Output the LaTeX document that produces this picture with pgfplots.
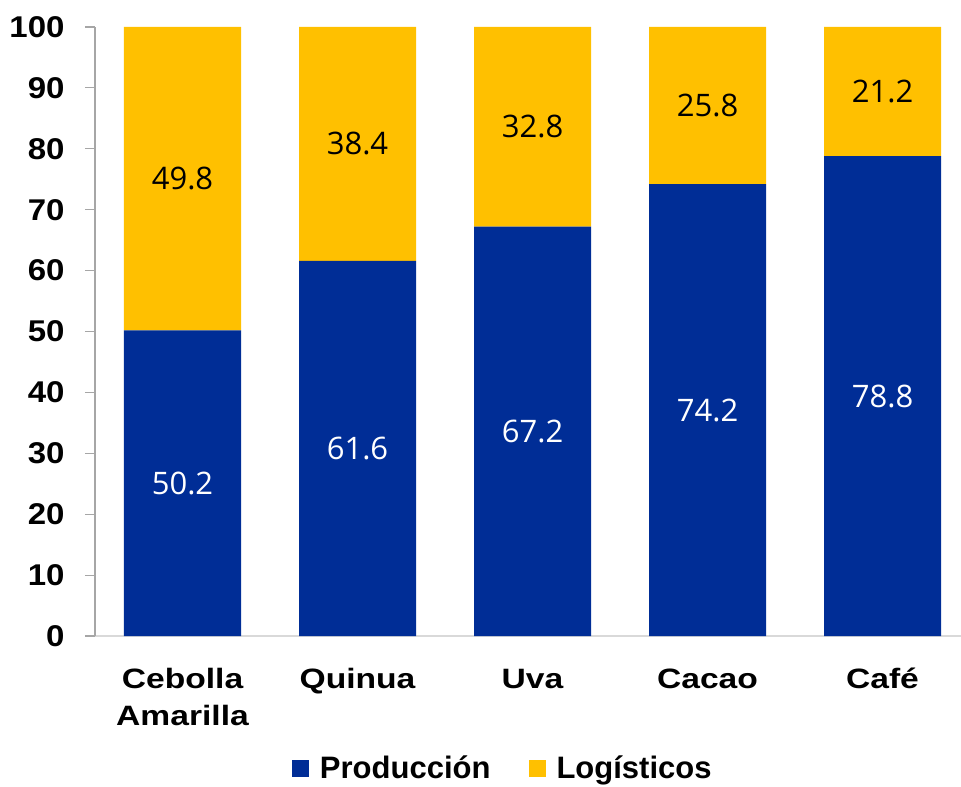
\documentclass[border=0pt]{standalone}
\usepackage{fontspec}
\setmainfont{Liberation Sans}
\newfontfamily\catfont{Liberation Sans}[FakeStretch=1.2]
\newfontfamily\tickfont{Liberation Sans}[FakeStretch=1.1]
\newfontfamily\lblfont{Open Sans}
\usepackage{pgfplots}
\usepackage{pgfplotstable}
\pgfplotsset{compat=1.18}
\definecolor{prodblue}{HTML}{002D96}
\definecolor{logyel}{HTML}{FFC000}
\definecolor{axgray}{HTML}{A6A6A6}
\definecolor{basegray}{HTML}{D9D9D9}

\pgfplotstableread{
x v
0 50.2
1 61.6
2 67.2
3 74.2
4 78.8
}\prodtab
\pgfplotstableread{
x v
0 49.8
1 38.4
2 32.8
3 25.8
4 21.2
}\logtab

\begin{document}
\begin{tikzpicture}
\begin{axis}[
  name=ax, at={(0,0)}, anchor=south west,
  scale only axis, width=875pt, height=609pt,
  xmin=-0.5, xmax=4.5, ymin=0, ymax=100,
  ybar stacked, bar width=117pt,
  axis x line*=bottom, axis y line*=left,
  x axis line style={basegray, line width=1.5pt},
  y axis line style={axgray, line width=1.2pt},
  xtick={0,1,2,3,4},
  xticklabels={{\vphantom{É}Cebolla\\Amarilla},{\vphantom{É}Quinua},{\vphantom{É}Uva},{\vphantom{É}Cacao},{\vphantom{É}Café}},
  x tick label style={align=center, font=\catfont\fontsize{28}{37}\selectfont\bfseries, yshift=-14pt},
  major x tick style={draw=none},
  ytick={0,10,...,100},
  ytick style={axgray, line width=1.2pt},
  major tick length=10pt, tick align=outside,
  y tick label style={font=\tickfont\fontsize{30}{32}\selectfont\bfseries, xshift=-17pt},
  /pgf/number format/assume math mode=true,
  point meta=explicit,
  nodes near coords={\pgfmathprintnumber[fixed,fixed zerofill,precision=1]{\pgfplotspointmeta}},
  every node near coord/.append style={anchor=center, font=\lblfont\fontsize{31}{32}\selectfont},
  legend columns=2,
  legend style={at={(axis description cs:0.466,-0.217)}, anchor=center, draw=none,
    font=\fontsize{31}{32}\selectfont\bfseries,
    /tikz/every even column/.append style={column sep=36pt}},
  legend image code/.code={\fill[#1] (0pt,-8.5pt) rectangle (17pt,8.5pt);},
]
\addplot[fill=prodblue, draw=none, every node near coord/.append style={text=white}] table[x=x,y=v,meta=v] {\prodtab};
\addplot[fill=logyel, draw=none, every node near coord/.append style={text=black}] table[x=x,y=v,meta=v] {\logtab};
\legend{\hspace{9pt}Producción,\hspace{9pt}Logísticos}
\end{axis}
\pgfresetboundingbox
\path[use as bounding box] (ax.south west) ++(-95pt,-151pt) rectangle ++(961pt,787pt);
\end{tikzpicture}
\end{document}
